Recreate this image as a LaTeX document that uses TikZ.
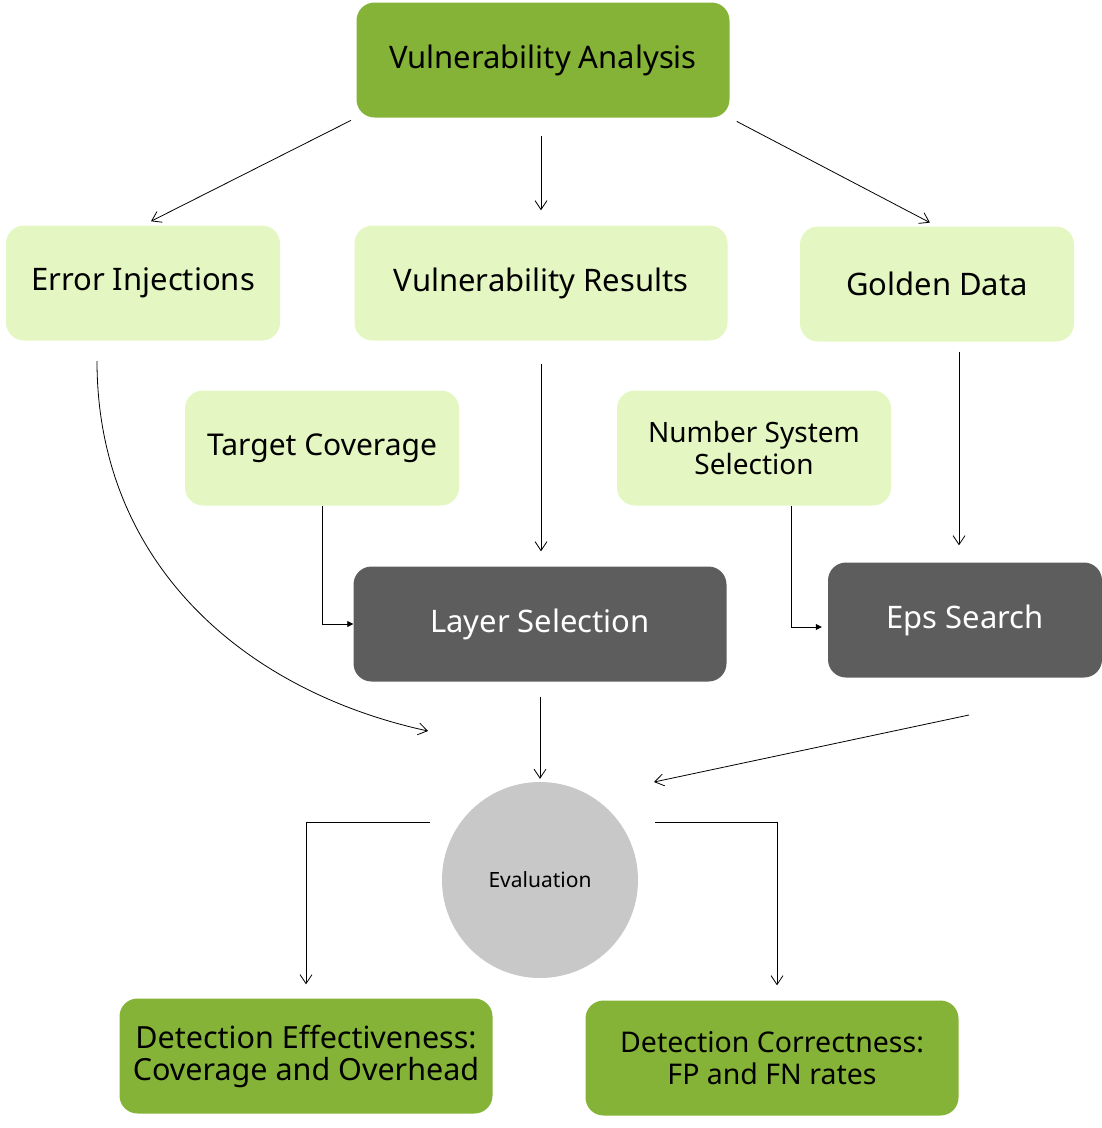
\documentclass[tikz,border=0pt]{standalone}
\usepackage{fontspec}
\setmainfont{Noto Sans}
\usetikzlibrary{arrows.meta}

\definecolor{nvgreen}{HTML}{85B337}
\definecolor{palegreen}{HTML}{E4F6C1}
\definecolor{darkbox}{HTML}{5D5D5D}
\definecolor{evalgray}{HTML}{C8C8C8}

\begin{document}
\begin{tikzpicture}[
    x=1pt, y=-1pt,
    box/.style={rounded corners=18pt, minimum width=274pt, minimum height=115pt,
        align=center, inner sep=0pt, font=\fontsize{31}{33}\selectfont},
    widebox/.style={box, minimum width=373pt},
    main/.style={fill=nvgreen},
    input/.style={fill=palegreen},
    dark/.style={fill=darkbox, text=white},
    arr/.style={line width=0.8pt, -{Straight Barb[length=9pt,width=12pt]}},
    tri/.style={line width=0.8pt, -{Triangle[length=6pt,width=6pt]}}
]

\useasboundingbox (0,0) rectangle (1102,1128);

% =========================
% Top: analysis
% =========================
\node[widebox, main] (va) at (543,60) {Vulnerability Analysis};

% =========================
% Inputs
% =========================
\node[box, input] (ei) at (143,283) {Error Injections};
\node[widebox, input] (vr) at (541,283) {Vulnerability Results};
\node[box, input] (gd) at (937,284) {Golden Data};

\node[box, input, font=\fontsize{30}{33}\selectfont] (tc) at (322,448) {Target Coverage};
\node[box, input, font=\fontsize{28}{32}\selectfont] (nss) at (754,448)
    {Number System\\Selection};

% =========================
% Selection steps
% =========================
\node[widebox, dark] (ls) at (540,624) {Layer Selection};
\node[box, dark] (eps) at (965,620) {Eps Search};

% =========================
% Evaluation and results
% =========================
\node[circle, fill=evalgray, minimum size=196pt, inner sep=0pt,
    font=\fontsize{21}{24}\selectfont] (eval) at (540,880) {Evaluation};

\node[widebox, main, font=\fontsize{30.5}{32}\selectfont] (de) at (306,1056)
    {Detection Effectiveness:\\Coverage and Overhead};
\node[widebox, main, font=\fontsize{28.5}{32}\selectfont] (dc) at (772,1058)
    {Detection Correctness:\\FP and FN rates};

% free ends
\coordinate (eiout) at (97,361);
\coordinate (evalin) at (428,731);
\coordinate (epsout) at (969,715);
\coordinate (evalne) at (654,782);
\coordinate (evalw) at (430,822);
\coordinate (evale) at (655,822);

% =========================
% Connectors
% =========================
\draw[arr, shorten <=6pt, shorten >=9pt] (va.south west) -- (ei.north);
\draw[arr, shorten <=18pt, shorten >=15pt] (va.south -| vr.north) -- (vr.north);
\draw[arr, shorten <=8pt, shorten >=8pt] (va.south east) -- (gd.north);

\draw[arr] (eiout) .. controls (97,560) and (240,690) .. (evalin);
\draw[arr, shorten <=23pt, shorten >=15pt] (vr.south) -- (vr.south |- ls.north);
\draw[arr, shorten <=10pt, shorten >=17pt]
    ([xshift=22pt]gd.south) -- ([xshift=22pt]gd.south |- eps.north);

\draw[tri] (tc.south) |- (ls.west);
\draw[tri, shorten >=6pt] ([xshift=37pt]nss.south) |- ([yshift=-7pt]eps.west);

\draw[arr, shorten <=15pt, shorten >=3pt] (ls.south) -- (ls.south |- eval.north);
\draw[arr] (epsout) -- (evalne);

\draw[arr, shorten >=14pt] (evalw) -| (de.north);
\draw[arr, shorten >=15pt] (evale) -| ([xshift=5pt]dc.north);

\end{tikzpicture}
\end{document}
